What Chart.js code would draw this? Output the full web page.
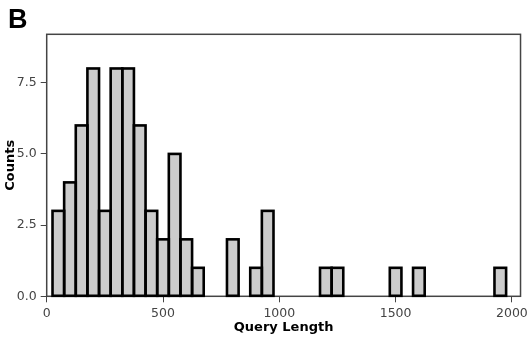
<!DOCTYPE html>
<html><head><meta charset="utf-8">
<script src="https://cdn.jsdelivr.net/npm/chart.js@4"></script>
<style>html,body{margin:0;padding:0;background:#fff}</style>
</head><body>
<canvas id="c" width="532" height="339"></canvas>
<script>
const binStart = 25;
const binWidth = 50;
const counts = [3,4,6,8,3,8,8,6,3,2,5,2,1,0,0,2,0,1,3,0,0,0,0,1,1,0,0,0,0,1,0,1,0,0,0,0,0,0,1];
const xTicks = [0,500,1000,1500,2000];
const yTicks = [0,2.5,5,7.5];
const panelLabel = 'B';
const xTitle = 'Query Length';
const yTitle = 'Counts';

const points = counts.map((c,i)=>({x: binStart + binWidth*(i+0.5), y: c}));

// outline each bar with a stroke centred on its edges (as in the reference)
const outlinePlugin = {
  id: 'outline',
  afterDatasetsDraw(chart){
    const a = chart.chartArea, ctx = chart.ctx;
    ctx.save();
    ctx.strokeStyle = '#444';
    ctx.lineWidth = 1.5;
    ctx.strokeRect(a.left, a.top, a.right - a.left, a.bottom - a.top);
    const meta = chart.getDatasetMeta(0);
    ctx.strokeStyle = '#000';
    ctx.lineWidth = 2.6;
    ctx.lineJoin = 'miter';
    meta.data.forEach((bar, i) => {
      if (!counts[i]) return;
      const p = bar.getProps(['x','y','base','width'], true);
      ctx.strokeRect(p.x - p.width/2, p.y, p.width, p.base - p.y);
    });
    ctx.restore();
  }
};

const tickFont = {family: '"DejaVu Sans", Verdana, sans-serif', size: 12.5};
const titleFont = {family: '"DejaVu Sans", Verdana, sans-serif', size: 13, weight: 'bold'};

new Chart(document.getElementById('c'), {
  type: 'bar',
  data: {
    datasets: [{
      data: points,
      backgroundColor: '#cccccc',
      borderWidth: 0,
      barPercentage: 1,
      categoryPercentage: 1
    }]
  },
  options: {
    responsive: false,
    devicePixelRatio: 1,
    animation: false,
    layout: {padding: {left: 8, right: 9.7, top: 0, bottom: 0}},
    plugins: {
      legend: {display: false},
      tooltip: {enabled: false},
      title: {
        display: true, text: panelLabel, align: 'start', color: '#000',
        font: {family: '"Liberation Sans", Arial, sans-serif', size: 27, weight: 'bold', lineHeight: 1},
        padding: {top: 7, bottom: 0.3}
      }
    },
    scales: {
      x: {
        type: 'linear', min: 0, max: 2037, offset: false,
        afterBuildTicks: s => { s.ticks = xTicks.map(v => ({value: v})); },
        afterFit: s => { s.height = 42.7; },
        grid: {display: true, drawOnChartArea: false, drawTicks: true, tickLength: 6, color: '#444', offset: false},
        border: {display: false},
        ticks: {color: '#444', font: tickFont, padding: 4, maxRotation: 0, callback: v => String(v)},
        title: {display: true, text: xTitle, color: '#000', font: titleFont, padding: {top: 0, bottom: 3.2}}
      },
      y: {
        min: 0, max: 9.2,
        afterBuildTicks: s => { s.ticks = yTicks.map(v => ({value: v})); },
        afterFit: s => { s.width = 38.7; },
        grid: {display: true, drawOnChartArea: false, drawTicks: true, tickLength: 6, color: '#444'},
        border: {display: false},
        ticks: {color: '#444', font: tickFont, padding: 4, callback: v => Number(v).toFixed(1)},
        title: {display: true, text: yTitle, color: '#000', font: Object.assign({}, titleFont, {lineHeight: '5px'}), padding: {top: 0, bottom: 0}}
      }
    }
  },
  plugins: [outlinePlugin]
});
</script>
</body></html>
